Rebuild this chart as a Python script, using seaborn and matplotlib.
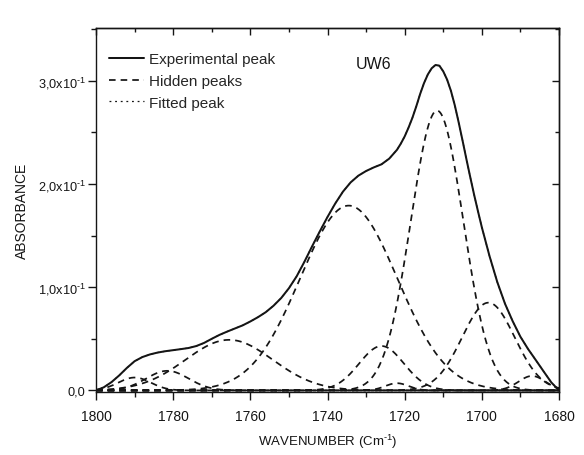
import numpy as np
import pandas as pd
import matplotlib
matplotlib.use("Agg")
import matplotlib.pyplot as plt
import seaborn as sns
from matplotlib.ticker import MultipleLocator, FixedLocator, FixedFormatter

# ---- data ----
wavenumber = [1800, 1798, 1796, 1794, 1792, 1790, 1788, 1786, 1784, 1782,
              1780, 1778, 1776, 1774, 1772, 1770, 1768, 1766, 1764, 1762,
              1760, 1758, 1756, 1754, 1752, 1750, 1748, 1746, 1744, 1742,
              1740, 1738, 1736, 1734, 1732, 1730, 1728, 1726, 1724, 1722,
              1721, 1720, 1719, 1718, 1717, 1716, 1715, 1714, 1713, 1712,
              1711, 1710, 1709, 1708, 1707, 1706, 1705, 1704, 1703, 1702,
              1701, 1700, 1698, 1696, 1694, 1692, 1690, 1688, 1686, 1684,
              1682, 1680]
experimental = [0.000, 0.003, 0.008, 0.0145, 0.0218, 0.0283, 0.0323, 0.0349, 0.0367, 0.0380,
                0.0390, 0.0400, 0.0411, 0.0430, 0.0460, 0.0500, 0.0538, 0.0570, 0.0600, 0.0630,
                0.0668, 0.0710, 0.0758, 0.0820, 0.0895, 0.0990, 0.1105, 0.1245, 0.1395, 0.1540,
                0.1680, 0.1810, 0.1925, 0.2015, 0.2080, 0.2125, 0.2160, 0.2190, 0.2245, 0.2330,
                0.2390, 0.2460, 0.2545, 0.2640, 0.2750, 0.2870, 0.2975, 0.3060, 0.3120, 0.3152,
                0.3145, 0.3090, 0.3010, 0.2900, 0.2760, 0.2595, 0.2420, 0.2240, 0.2065, 0.1895,
                0.1735, 0.1580, 0.1300, 0.1050, 0.0840, 0.0670, 0.0520, 0.0400, 0.0293, 0.0185,
                0.0078, 0.0000]
# the fitted peak lies on top of the experimental trace in the figure
fitted = list(experimental)

# hidden (deconvoluted) Gaussian bands: centre, height, width (sigma)
peak_centers = [1790.0, 1781.5, 1765.5, 1734.5, 1726.0, 1722.0, 1711.6, 1698.3, 1687.0]
peak_heights = [0.0125, 0.019, 0.049, 0.179, 0.043, 0.007, 0.271, 0.085, 0.014]
peak_widths = [4.2, 5.5, 11.3, 12.6, 5.8, 3.0, 6.8, 6.8, 3.5]

x_ticks = [1800, 1780, 1760, 1740, 1720, 1700, 1680]
x_tick_labels = ["1800", "1780", "1760", "1740", "1720", "1700", "1680"]
y_ticks = [0.0, 0.1, 0.2, 0.3]
y_tick_labels = ["0,0", r"1,0x10$^{\text{-}1}$", r"2,0x10$^{\text{-}1}$", r"3,0x10$^{\text{-}1}$"]

legend_labels = ["Experimental peak", "Hidden peaks", "Fitted peak"]
sample_name = "UW6"

# ---- style ----
sns.set_theme(style="ticks")
plt.rcParams["font.family"] = ["Liberation Sans", "DejaVu Sans"]
plt.rcParams["mathtext.fontset"] = "custom"
plt.rcParams["mathtext.rm"] = "Liberation Sans"
plt.rcParams["mathtext.it"] = "Liberation Sans:italic"
plt.rcParams["mathtext.bf"] = "Liberation Sans:bold"

ink = "#151515"

fig = plt.figure(figsize=(5.84, 4.56), dpi=100)
fig.patch.set_facecolor("white")
ax = fig.add_axes([0.1644, 0.1382, 0.7928, 0.7982])
ax.set_facecolor("white")

df_exp = pd.DataFrame({"wavenumber": wavenumber, "absorbance": experimental})
df_fit = pd.DataFrame({"wavenumber": wavenumber, "absorbance": fitted})

grid = np.linspace(1800, 1680, 601)
for i, (c, h, w) in enumerate(zip(peak_centers, peak_heights, peak_widths)):
    band = h * np.exp(-((grid - c) ** 2) / (2.0 * w ** 2))
    sns.lineplot(x=grid, y=band, ax=ax, color=ink, lw=1.25,
                 linestyle=(0, (3.8, 2.9)), errorbar=None, sort=False,
                 label=legend_labels[1] if i == 0 else None, zorder=2)

sns.lineplot(data=df_fit, x="wavenumber", y="absorbance", ax=ax, color=ink,
             lw=0.9, linestyle=(0, (1.5, 3.0)), errorbar=None, sort=False,
             label=legend_labels[2], zorder=3)
sns.lineplot(data=df_exp, x="wavenumber", y="absorbance", ax=ax, color=ink,
             lw=1.45, errorbar=None, sort=False, label=legend_labels[0], zorder=4)

ax.set_xlim(1800, 1680)
ax.set_ylim(-0.0015, 0.351)

ax.xaxis.set_major_locator(FixedLocator(x_ticks))
ax.xaxis.set_major_formatter(FixedFormatter(x_tick_labels))
ax.xaxis.set_minor_locator(MultipleLocator(10))
ax.yaxis.set_major_locator(FixedLocator(y_ticks))
ax.yaxis.set_major_formatter(FixedFormatter(y_tick_labels))
ax.yaxis.set_minor_locator(MultipleLocator(0.05))

ax.tick_params(axis="both", which="major", direction="out", length=6, width=1.0,
               color=ink, labelcolor=ink, labelsize=10)
ax.tick_params(axis="x", which="major", pad=6)
ax.tick_params(axis="y", which="major", pad=1.5, labelsize=9.2)
ax.tick_params(axis="both", which="minor", direction="out", length=3.5, width=1.0,
               color=ink)
ax.tick_params(top=False, right=False, bottom=True, left=True)

for s in ax.spines.values():
    s.set_color(ink)
    s.set_linewidth(1.0)

secx = ax.secondary_xaxis("top")
secx.xaxis.set_major_locator(FixedLocator(x_ticks))
secx.xaxis.set_minor_locator(MultipleLocator(10))
secx.tick_params(which="major", direction="in", length=5, width=1.0, color=ink, labeltop=False)
secx.tick_params(which="minor", direction="in", length=3, width=1.0, color=ink)
secx.spines["top"].set_linewidth(1.0)
secx.spines["top"].set_color(ink)

secy = ax.secondary_yaxis("right")
secy.yaxis.set_major_locator(FixedLocator(y_ticks))
secy.yaxis.set_minor_locator(MultipleLocator(0.05))
secy.tick_params(which="major", direction="in", length=5, width=1.0, color=ink, labelright=False)
secy.tick_params(which="minor", direction="in", length=3, width=1.0, color=ink)
secy.spines["right"].set_linewidth(1.0)
secy.spines["right"].set_color(ink)

ax.set_xlabel(r"WAVENUMBER (Cm$^{\text{-}1}$)", fontsize=9.5, color=ink, labelpad=6.5)
ax.set_ylabel("ABSORBANCE", fontsize=10, color=ink, labelpad=6.5)

ax.text(1728, 0.317, sample_name, fontsize=11.5, color=ink, ha="center", va="center")

handles, labels = ax.get_legend_handles_labels()
order = [labels.index(l) for l in legend_labels]
ax.legend([handles[i] for i in order], [labels[i] for i in order],
          loc="upper left", bbox_to_anchor=(0.028, 0.933), frameon=False,
          fontsize=11, handlelength=2.3, handletextpad=0.3, labelspacing=0.5,
          borderpad=0, borderaxespad=0)

fig.savefig("out.png", dpi=100, facecolor="white")
